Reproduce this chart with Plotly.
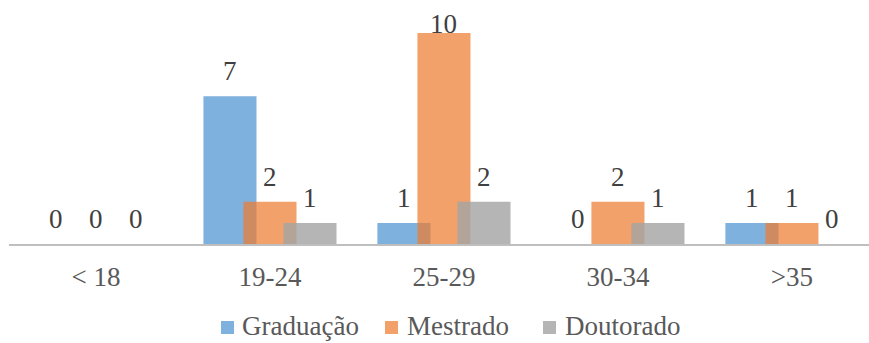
import plotly.graph_objects as go

categories = ["< 18", "19-24", "25-29", "30-34", ">35"]
graduacao = [0, 7, 1, 0, 1]
mestrado = [0, 2, 10, 2, 1]
doutorado = [0, 1, 2, 1, 0]

series = [
    ("Graduação", graduacao, "rgba(91,155,213,0.78)", -0.23),
    ("Mestrado", mestrado, "rgba(237,125,49,0.72)", 0.0),
    ("Doutorado", doutorado, "rgba(165,165,165,0.82)", 0.23),
]
# legend layout (pixel positions of swatch left edges and text starts)
legend_swatch_px = [221, 385, 543]
legend_text_px = [240, 405, 563]

FONT = "'Times New Roman', 'Liberation Serif', serif"
FS = 27
idx = list(range(len(categories)))
ymax = 11.56

L, PW, PH = 9, 860, 244


def px_x(p):
    return (p - L) / PW


def px_y(p):
    return (PH - p) / PH


fig = go.Figure()
annotations = []
shapes = []
for k, (name, vals, color, off) in enumerate(series):
    xs = [i + off for i in idx]
    fig.add_trace(go.Bar(
        x=xs, y=vals, name=name, width=0.305,
        marker=dict(color=color, line=dict(width=0)),
        hoverinfo="x+y", showlegend=False,
    ))
    for x, v in zip(xs, vals):
        shift = 25
        top_px = (ymax - v) / ymax * PH
        if top_px - shift < 24:
            shift = top_px - 24
        annotations.append(dict(
            x=x, y=v, text=str(v), showarrow=False, xref="x", yref="y",
            yanchor="middle", xanchor="center", yshift=shift,
            font=dict(family=FONT, size=FS, color="#404040"),
        ))
    # custom legend entry
    sx = legend_swatch_px[k]
    shapes.append(dict(
        type="rect", xref="paper", yref="paper",
        x0=px_x(sx), x1=px_x(sx + 13), y0=px_y(334), y1=px_y(321),
        fillcolor=color, line=dict(width=0),
    ))
    annotations.append(dict(
        x=px_x(legend_text_px[k]), y=px_y(326), xref="paper", yref="paper",
        text=name, showarrow=False, xanchor="left", yanchor="middle",
        font=dict(family=FONT, size=FS, color="#595959"),
    ))

fig.update_layout(
    width=869, height=343,
    margin=dict(l=L, r=0, t=0, b=343 - PH),
    barmode="overlay",
    plot_bgcolor="white", paper_bgcolor="white",
    font=dict(family=FONT, size=FS, color="#595959"),
    annotations=annotations,
    shapes=shapes,
    showlegend=False,
    xaxis=dict(
        tickmode="array", tickvals=idx, ticktext=categories,
        range=[-0.5, 4.443], showgrid=False, zeroline=False,
        showline=True, linecolor="#bfbfbf", linewidth=2,
        ticks="", ticklabelstandoff=8,
        tickfont=dict(family=FONT, size=FS, color="#595959"),
        fixedrange=True, automargin=False,
    ),
    yaxis=dict(
        range=[0, ymax], visible=False, showgrid=False, zeroline=False,
        fixedrange=True, automargin=False,
    ),
)

fig.write_html("out.html")
